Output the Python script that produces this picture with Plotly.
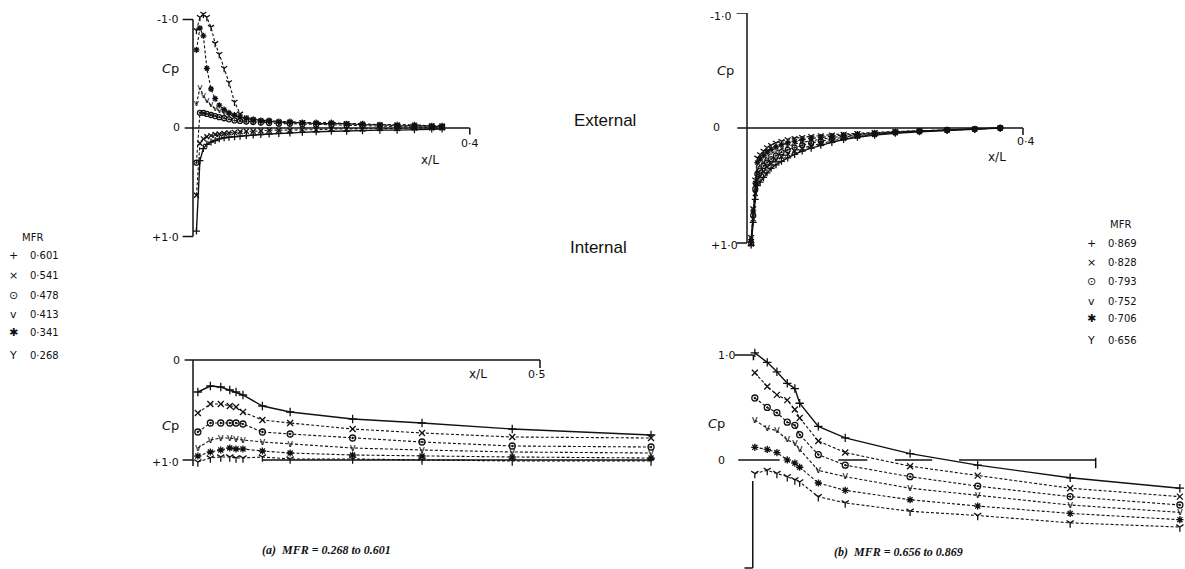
import plotly.graph_objects as go

W, H = 1185, 569

# ---------------- data ----------------
# (a) external surface, MFR 0.268 - 0.601
ext_a_x = [0.005, 0.01, 0.015, 0.02, 0.026, 0.032, 0.038, 0.045, 0.052, 0.06,
           0.068, 0.077, 0.087, 0.098, 0.11, 0.124, 0.14, 0.158, 0.178, 0.2,
           0.222, 0.245, 0.27, 0.295, 0.32, 0.345, 0.36]
ext_a = {
    "0.601": [0.95, 0.30, 0.19, 0.15, 0.13, 0.115, 0.10, 0.09, 0.085, 0.08,
              0.075, 0.07, 0.065, 0.06, 0.055, 0.05, 0.045, 0.04, 0.035, 0.03,
              0.03, 0.025, 0.02, 0.02, 0.015, 0.01, 0.01],
    "0.541": [0.62, 0.14, 0.10, 0.08, 0.07, 0.06, 0.055, 0.05, 0.045, 0.04,
              0.035, 0.03, 0.03, 0.025, 0.02, 0.02, 0.02, 0.015, 0.015, 0.01,
              0.01, 0.01, 0.005, 0.005, 0.0, 0.0, 0.0],
    "0.478": [0.32, -0.14, -0.14, -0.13, -0.12, -0.11, -0.10, -0.09, -0.08, -0.07,
              -0.065, -0.06, -0.055, -0.05, -0.045, -0.04, -0.04, -0.035, -0.03, -0.03,
              -0.025, -0.02, -0.02, -0.015, -0.01, -0.01, -0.01],
    "0.413": [-0.22, -0.37, -0.30, -0.25, -0.21, -0.18, -0.16, -0.14, -0.12, -0.11,
              -0.10, -0.09, -0.08, -0.07, -0.06, -0.06, -0.05, -0.05, -0.04, -0.04,
              -0.04, -0.03, -0.03, -0.02, -0.02, -0.02, -0.01],
    "0.341": [-0.72, -0.92, -0.85, -0.55, -0.36, -0.27, -0.21, -0.17, -0.14, -0.12,
              -0.10, -0.09, -0.08, -0.07, -0.07, -0.06, -0.06, -0.05, -0.05, -0.05,
              -0.04, -0.04, -0.03, -0.03, -0.03, -0.02, -0.02],
    "0.268": [-0.90, -1.02, -1.05, -1.02, -0.93, -0.78, -0.68, -0.55, -0.42, -0.24,
              -0.13, -0.08, -0.07, -0.06, -0.06, -0.05, -0.05, -0.05, -0.04, -0.04,
              -0.04, -0.03, -0.03, -0.03, -0.02, -0.02, -0.02],
}

# (a) internal surface
int_a_x = [0.007, 0.025, 0.04, 0.053, 0.062, 0.072, 0.10, 0.14, 0.23, 0.33, 0.46, 0.66]
int_a = {
    "0.601": [0.32, 0.26, 0.27, 0.30, 0.32, 0.35, 0.46, 0.52, 0.59, 0.63, 0.69, 0.75],
    "0.541": [0.53, 0.44, 0.44, 0.46, 0.47, 0.52, 0.60, 0.63, 0.69, 0.73, 0.77, 0.78],
    "0.478": [0.72, 0.63, 0.63, 0.63, 0.63, 0.64, 0.72, 0.74, 0.78, 0.82, 0.86, 0.87],
    "0.413": [0.88, 0.80, 0.78, 0.78, 0.79, 0.80, 0.82, 0.84, 0.88, 0.90, 0.92, 0.93],
    "0.341": [0.96, 0.92, 0.90, 0.88, 0.89, 0.89, 0.91, 0.93, 0.95, 0.96, 0.97, 0.98],
    "0.268": [1.02, 0.98, 0.97, 0.97, 0.98, 0.98, 0.97, 0.99, 0.99, 1.00, 1.01, 1.01],
}

# (b) external surface, MFR 0.656 - 0.869
ext_b_x = [0.006, 0.009, 0.012, 0.015, 0.019, 0.024, 0.029, 0.035, 0.042, 0.05,
           0.059, 0.069, 0.08, 0.093, 0.107, 0.123, 0.14, 0.16, 0.185, 0.215,
           0.25, 0.29, 0.33, 0.367]
ext_b = {
    "0.869": [1.02, 0.82, 0.62, 0.50, 0.47, 0.43, 0.39, 0.35, 0.32, 0.29,
              0.26, 0.23, 0.20, 0.175, 0.15, 0.125, 0.10, 0.08, 0.062, 0.045,
              0.032, 0.02, 0.01, 0.0],
    "0.828": [1.01, 0.79, 0.57, 0.45, 0.42, 0.38, 0.34, 0.31, 0.28, 0.25,
              0.225, 0.20, 0.175, 0.155, 0.135, 0.11, 0.09, 0.072, 0.056, 0.041,
              0.03, 0.019, 0.01, 0.0],
    "0.793": [1.00, 0.76, 0.53, 0.40, 0.37, 0.33, 0.30, 0.27, 0.24, 0.21,
              0.19, 0.17, 0.15, 0.13, 0.115, 0.097, 0.08, 0.065, 0.051, 0.038,
              0.028, 0.018, 0.009, 0.0],
    "0.752": [0.99, 0.74, 0.50, 0.35, 0.32, 0.29, 0.25, 0.22, 0.20, 0.18,
              0.16, 0.14, 0.125, 0.11, 0.097, 0.083, 0.07, 0.058, 0.046, 0.035,
              0.026, 0.017, 0.009, 0.0],
    "0.706": [0.97, 0.72, 0.48, 0.30, 0.27, 0.24, 0.21, 0.185, 0.165, 0.145,
              0.13, 0.115, 0.10, 0.09, 0.08, 0.07, 0.061, 0.052, 0.042, 0.032,
              0.025, 0.016, 0.008, 0.0],
    "0.656": [0.95, 0.70, 0.45, 0.26, 0.23, 0.20, 0.17, 0.15, 0.13, 0.115,
              0.10, 0.09, 0.08, 0.072, 0.065, 0.058, 0.052, 0.045, 0.038, 0.03,
              0.024, 0.016, 0.008, 0.0],
}

# (b) internal surface
int_b_x = [0.007, 0.025, 0.039, 0.054, 0.065, 0.072, 0.099, 0.138, 0.232, 0.330, 0.464, 0.623]
int_b = {
    "0.869": [-1.02, -0.93, -0.84, -0.73, -0.68, -0.54, -0.32, -0.21, -0.06, 0.05, 0.17, 0.27],
    "0.828": [-0.83, -0.70, -0.62, -0.57, -0.48, -0.40, -0.18, -0.07, 0.06, 0.15, 0.27, 0.35],
    "0.793": [-0.59, -0.50, -0.45, -0.36, -0.33, -0.24, -0.05, 0.05, 0.16, 0.25, 0.35, 0.43],
    "0.752": [-0.38, -0.30, -0.28, -0.19, -0.16, -0.10, 0.10, 0.16, 0.27, 0.34, 0.43, 0.50],
    "0.706": [-0.12, -0.10, -0.07, 0.00, 0.03, 0.07, 0.22, 0.29, 0.38, 0.44, 0.51, 0.57],
    "0.656": [0.13, 0.10, 0.13, 0.16, 0.19, 0.21, 0.35, 0.41, 0.49, 0.53, 0.60, 0.64],
}

mfr_a = ["0·601", "0·541", "0·478", "0·413", "0·341", "0·268"]
mfr_b = ["0·869", "0·828", "0·793", "0·752", "0·706", "0·656"]
glyphs = ["+", "×", "⊙", "v", "✱", "Y"]

# ---------------- styling ----------------
INK = "#111111"
HAND = "DejaVu Sans"

# symbol per series order (+, x, circle, v, asterisk, Y); v is drawn as a text glyph
SYMS = ["cross-thin-open", "x-thin-open", "circle-open-dot", None, "asterisk-open", "y-down-open"]


def dom(ox, oy, sx, sy, xr, cr, msize=6, vsize=10):
    x0 = max(0.0, (ox + sx * xr[0]) / W)
    x1 = min(1.0, (ox + sx * xr[1]) / W)
    ytop = oy + sy * cr[0]
    ybot = oy + sy * cr[1]
    return [x0, x1], [max(0.0, 1 - ybot / H), min(1.0, 1 - ytop / H)]


# panel geometry: origin pixel, px per unit, data extents, marker / glyph size
panels = {
    1: dict(ox=193, oy=128, sx=692, sy=108.5, xr=(-0.04, 0.45), cr=(-1.12, 1.12), msize=5, vsize=9),
    2: dict(ox=747, oy=128, sx=690, sy=115, xr=(-0.04, 0.45), cr=(-1.0, 1.05), msize=5, vsize=7),
    3: dict(ox=193, oy=360, sx=694, sy=100, xr=(-0.04, 0.68), cr=(-0.25, 1.15), msize=6, vsize=10),
    4: dict(ox=750, oy=460, sx=690, sy=105, xr=(-0.03, 0.63), cr=(-1.1, 1.04), msize=6, vsize=10),
}

fig = go.Figure()
layout = {}
for i, p in panels.items():
    xd, yd = dom(**p)
    sfx = "" if i == 1 else str(i)
    layout["xaxis" + sfx] = dict(domain=xd, range=list(p["xr"]), visible=False,
                                 anchor="y" + sfx, fixedrange=True)
    layout["yaxis" + sfx] = dict(domain=yd, range=[p["cr"][1], p["cr"][0]], visible=False,
                                 anchor="x" + sfx, fixedrange=True)


def add_series(xs, ys, k, i):
    sfx = "" if i == 1 else str(i)
    ms = panels[i]["msize"]
    dash = "solid" if k == 0 else "3px,2px"
    lw = 1.4 if k == 0 else 1.1
    sym = SYMS[k]
    if sym is None:
        fig.add_trace(go.Scatter(
            x=xs, y=ys, mode="lines+text", text=["v"] * len(xs),
            textposition="middle center",
            textfont=dict(family=HAND, size=panels[i]["vsize"], color=INK),
            line=dict(color=INK, width=lw, dash=dash),
            xaxis="x" + sfx, yaxis="y" + sfx, showlegend=False, hoverinfo="skip"))
    else:
        fig.add_trace(go.Scatter(
            x=xs, y=ys, mode="lines+markers",
            marker=dict(symbol=sym, size=ms, color=INK, line=dict(color=INK, width=1.3)),
            line=dict(color=INK, width=lw, dash=dash),
            xaxis="x" + sfx, yaxis="y" + sfx, showlegend=False, hoverinfo="skip"))


for k, key in enumerate(ext_a):
    add_series(ext_a_x, ext_a[key], k, 1)
for k, key in enumerate(ext_b):
    add_series(ext_b_x, ext_b[key], k, 2)
for k, key in enumerate(int_a):
    add_series(int_a_x, int_a[key], k, 3)
for k, key in enumerate(int_b):
    add_series(int_b_x, int_b[key], k, 4)

# ---------------- axis frames (hand-drawn style) ----------------
shapes = []


def seg(i, x0, y0, x1, y1, w=1.5):
    sfx = "" if i == 1 else str(i)
    shapes.append(dict(type="line", xref="x" + sfx, yref="y" + sfx,
                       x0=x0, y0=y0, x1=x1, y1=y1,
                       line=dict(color=INK, width=w)))


# (a) external
seg(1, 0, -1.0, 0, 1.0)
seg(1, -0.015, -1.0, 0, -1.0)
seg(1, -0.015, 1.0, 0, 1.0)
seg(1, -0.012, 0, 0.40, 0)
seg(1, 0.40, 0, 0.40, 0.06)
# (b) external
seg(2, 0, -1.0, 0, 1.0)
seg(2, -0.015, -1.0, 0, -1.0)
seg(2, -0.015, 1.0, 0, 1.0)
seg(2, -0.014, 0, 0.40, 0)
seg(2, 0.40, 0, 0.40, 0.06)
# (a) internal
seg(3, -0.012, 0, 0.50, 0)
seg(3, 0.50, 0, 0.50, 0.08)
seg(3, 0, 0, 0, 1.06)
seg(3, -0.015, 1.0, 0, 1.0)
seg(3, 0.10, 1.0, 0.66, 1.0)
# (b) internal
seg(4, -0.022, -1.0, 0.005, -1.0)
seg(4, 0.005, -1.0, 0.005, -0.95)
seg(4, -0.017, 0, 0.043, 0)
seg(4, 0.128, 0, 0.170, 0)
seg(4, 0.210, 0, 0.264, 0)
seg(4, 0.303, 0, 0.501, 0)
seg(4, 0.501, -0.02, 0.501, 0.08)
seg(4, 0.004, 0.20, 0.004, 1.03)
seg(4, -0.008, 1.03, 0.004, 1.03)

# ---------------- text ----------------
ann = []


def txt(px, py, s, size=11, family=HAND, anchor="center"):
    ann.append(dict(x=px / W, y=1 - py / H, xref="paper", yref="paper", text=s,
                    showarrow=False, xanchor=anchor, yanchor="middle",
                    font=dict(family=family, size=size, color=INK)))


# (a) external labels
txt(180, 20, "-1·0", anchor="right")
txt(182, 128, "0", anchor="right")
txt(181, 237, "+1·0", anchor="right")
txt(170, 68, "<i>C</i>p", size=13)
txt(430, 160, "x/L", size=12)
txt(470, 143, "0·4")
# (b) external labels
txt(733, 16, "-1·0", anchor="right")
txt(722, 127, "0", anchor="right")
txt(740, 245, "+1·0", anchor="right")
txt(725, 70, "<i>C</i>p", size=13)
txt(997, 157, "x/L", size=12)
txt(1026, 141, "0·4")
# (a) internal labels
txt(182, 360, "0", anchor="right")
txt(181, 462, "+1·0", anchor="right")
txt(170, 425, "<i>C</i>p", size=13)
txt(478, 374, "x/L", size=12)
txt(537, 374, "0·5")
# (b) internal labels
txt(738, 355, "1·0", anchor="right")
txt(716, 423, "<i>C</i>p", size=13)
txt(727, 460, "0", anchor="right")

# section titles
txt(605, 120, "External", size=17, family="Liberation Sans")
txt(598, 248, "Internal", size=17, family="Liberation Sans")

# captions
txt(326, 550, "<b><i>(a)  MFR = 0.268 to 0.601</i></b>", size=12, family="Liberation Serif")
txt(898, 552, "<b><i>(b)  MFR = 0.656 to 0.869</i></b>", size=12, family="Liberation Serif")

# legends
txt(32, 237, "MFR", size=10)
rows_a = [256, 275, 295, 314, 332, 355]
for g, m, yy in zip(glyphs, mfr_a, rows_a):
    txt(13, yy, g, size=11)
    txt(28, yy, m, size=10, anchor="left")

txt(1120, 225, "MFR", size=10)
rows_b = [243, 262, 281, 301, 318, 340]
for g, m, yy in zip(glyphs, mfr_b, rows_b):
    txt(1091, yy, g, size=11)
    txt(1106, yy, m, size=10, anchor="left")

fig.update_layout(
    width=W, height=H, margin=dict(l=0, r=0, t=0, b=0),
    paper_bgcolor="white", plot_bgcolor="white",
    shapes=shapes, annotations=ann, showlegend=False, **layout)

fig.write_html("out.html")
